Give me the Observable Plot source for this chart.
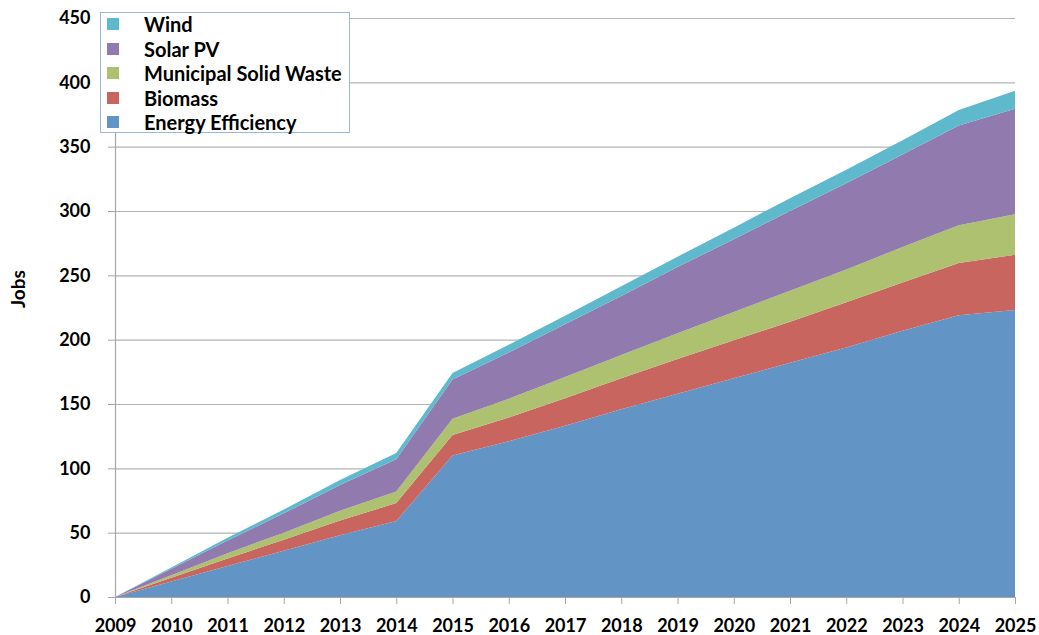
<!DOCTYPE html>
<html><head><meta charset="utf-8">
<script src="https://cdn.jsdelivr.net/npm/d3@7"></script>
<script src="https://cdn.jsdelivr.net/npm/@observablehq/plot@0.6"></script>
<style>
body{margin:0;background:#fff;}
#wrap{position:relative;width:1039px;height:635px;font-family:Lato,"Open Sans",sans-serif;}
#legend{position:absolute;left:100px;top:12px;width:250px;height:121px;border:1px solid #9bb7d9;background:#fff;box-sizing:border-box;}
.row{position:absolute;left:6px;height:24px;display:flex;align-items:center;font-weight:bold;font-size:20px;color:#000;white-space:nowrap;}
.sw{width:12px;height:12px;margin-right:25px;flex:none;}
</style></head>
<body><div id="wrap"><div id="chart"></div><div id="legend"></div></div>
<script>
const years = [2009,2010,2011,2012,2013,2014,2015,2016,2017,2018,2019,2020,2021,2022,2023,2024,2025];
const seriesNames = ["Energy Efficiency","Biomass","Municipal Solid Waste","Solar PV","Wind"];
const energyEfficiency = [0,12,24,36,48,59,110,121,133,146,158,170,182,194,207,219,223];
const biomass          = [0,3,6,8.5,11.5,14,16,18.5,21.5,24,27,29.5,32,35,37.5,40.5,43];
const msw              = [0,2,4,5.5,7.5,9,12.5,14.5,16.5,18,20,22,24,25.5,27.5,29.5,31.5];
const solarPV          = [0,5,10,15,20,25,30.5,36,41,46,51.5,56.5,62,67,72,77.5,82];
const wind             = [0,1,2,3,4,5,5,6,6.5,7.5,8,9,10,10.5,11,12,14];
const yTicks = [0,50,100,150,200,250,300,350,400,450];
const colors = ["#6394c6","#c9655f","#adc170","#917aae","#5fb9cd"];

const valuesBySeries = [energyEfficiency, biomass, msw, solarPV, wind];
const data = [];
seriesNames.forEach((s, i) => years.forEach((yr, j) => data.push({year: yr, series: s, jobs: valuesBySeries[i][j]})));

const font = "Lato, 'Open Sans', sans-serif";
const chart = Plot.plot({
  width: 1039, height: 635,
  marginLeft: 115, marginRight: 24, marginTop: 18, marginBottom: 38,
  style: {fontFamily: font, background: "#fff"},
  x: {type: "linear", domain: [2009, 2025]},
  y: {domain: [0, 450]},
  color: {domain: seriesNames, range: colors},
  marks: [
    Plot.ruleY(yTicks, {stroke: "#b3b3b3", strokeWidth: 1.2}),
    Plot.areaY(data, Plot.stackY({x: "year", y: "jobs", z: "series", fill: "series", order: seriesNames})),
    Plot.ruleX([2009], {stroke: "#a6a6a6", strokeWidth: 1.2}),
    Plot.ruleY([0], {stroke: "#a6a6a6", strokeWidth: 1.2}),
    Plot.axisX({ticks: years, tickFormat: d => String(d), tickSize: 7, tickPadding: 15, label: null,
      fontSize: 18, fontWeight: "bold", stroke: "#a6a6a6", fill: "black"}),
    Plot.axisY({ticks: yTicks, tickSize: 7, tickPadding: 18, label: null,
      fontSize: 18, fontWeight: "bold", stroke: "#a6a6a6", fill: "black"}),
    Plot.text(["Jobs"], {frameAnchor: "left", dx: -97, rotate: -90, fontSize: 19, fontWeight: "bold", fill: "black"})
  ]
});
document.getElementById("chart").appendChild(chart);

const legend = document.getElementById("legend");
const legendOrder = [4,3,2,1,0];
legendOrder.forEach((i, k) => {
  const row = document.createElement("div");
  row.className = "row";
  row.style.top = (-1 + k * 24.5) + "px";
  const sw = document.createElement("div");
  sw.className = "sw";
  sw.style.background = colors[i];
  const t = document.createElement("span");
  t.textContent = seriesNames[i];
  row.appendChild(sw); row.appendChild(t);
  legend.appendChild(row);
});
</script></body></html>
